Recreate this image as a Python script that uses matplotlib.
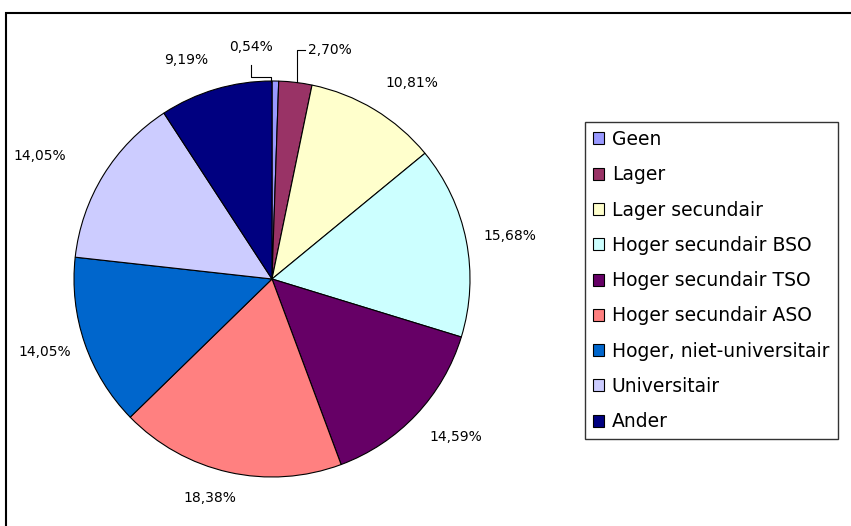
import matplotlib
matplotlib.use("Agg")
import matplotlib.pyplot as plt
import matplotlib.patches as mpatches

categories = ["Geen", "Lager", "Lager secundair", "Hoger secundair BSO",
              "Hoger secundair TSO", "Hoger secundair ASO",
              "Hoger, niet-universitair", "Universitair", "Ander"]
values = [0.54, 2.70, 10.81, 15.68, 14.59, 18.38, 14.05, 14.05, 9.19]
pct_labels = ["0,54%", "2,70%", "10,81%", "15,68%", "14,59%", "18,38%",
              "14,05%", "14,05%", "9,19%"]
colors = ["#9999FF", "#993366", "#FFFFCC", "#CCFFFF", "#660066",
          "#FF8080", "#0066CC", "#CCCCFF", "#000080"]

W, H = 851, 526
CX, CY, R = 272, 279, 198

fig = plt.figure(figsize=(W / 100, H / 100), dpi=100)
ax = fig.add_axes([(CX - R) / W, (H - CY - R) / H, 2 * R / W, 2 * R / H])
wedges, _ = ax.pie(values, colors=colors, startangle=90, counterclock=False,
                   radius=1, wedgeprops=dict(edgecolor="black", linewidth=0.8))
ax.set_xlim(-1, 1)
ax.set_ylim(-1, 1)


def px(x, y):
    return ((x - CX) / R, (CY - y) / R)


lab_font = dict(family="DejaVu Sans", fontsize=10)
# label layout (pixel centres of texts)
label_pos = [(251, 47), (308, 50), (412, 83), (510, 236), (456, 437),
             (210, 498), (45, 352), (40, 156), (186, 60)]
for i, (lab, (lx, ly)) in enumerate(zip(pct_labels, label_pos)):
    ha = "left" if i == 1 else "center"
    ax.text(*px(lx, ly), lab, ha=ha, va="center", clip_on=False, **lab_font)

# leader lines for small slices
lines = [[(251, 65), (251, 77), (270.5, 77), (270.5, 82)],
         [(305, 50), (297, 50), (297, 82)]]
for ln in lines:
    pts = [px(x, y) for x, y in ln]
    ax.plot([p[0] for p in pts], [p[1] for p in pts], color="black",
            lw=0.8, clip_on=False)

handles = [mpatches.Patch(facecolor=c, edgecolor="black", lw=0.8) for c in colors]
leg = fig.legend(handles, categories, loc="upper left",
                 bbox_to_anchor=(585 / W, 1 - 440 / H, 253 / W, 318 / H),
                 mode="expand", frameon=True, fancybox=False, shadow=False,
                 edgecolor="black", borderaxespad=0, handlelength=0.61,
                 handleheight=0.61, handletextpad=0.4, labelspacing=0.87,
                 borderpad=0.42, prop=dict(family="DejaVu Sans", size=13.5))
leg.get_frame().set_linewidth(1.0)

frame = mpatches.Rectangle((6.3 / W, -0.1), 1.2, 1.1 - 13 / H,
                           transform=fig.transFigure, fill=False,
                           edgecolor="black", lw=1.5, clip_on=False)
fig.patches.append(frame)

fig.savefig("out.png", dpi=100, facecolor="white")
